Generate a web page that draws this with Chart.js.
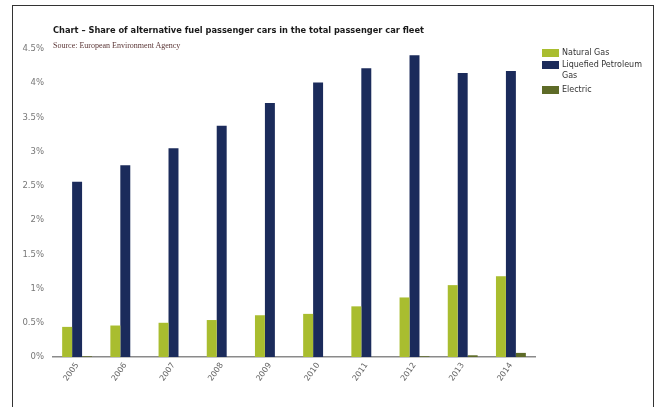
<!DOCTYPE html>
<html>
<head>
<meta charset="utf-8">
<script src="https://cdn.jsdelivr.net/npm/chart.js@4/dist/chart.umd.min.js"></script>
<style>
  html, body { margin: 0; padding: 0; background: #fff; }
  #wrap { position: relative; width: 656px; height: 407px; overflow: hidden; }
  #frame { position: absolute; left: 12px; top: 5px; width: 640px; height: 420px;
    border: 1.5px solid #333; border-bottom: none; }
  #title { position: absolute; left: 53px; top: 24px; font: bold 9.2px "DejaVu Sans Condensed", "DejaVu Sans", sans-serif;
    color: #1a1a1a; white-space: nowrap; }
  #source { position: absolute; left: 53px; top: 41px; font: 8px "Liberation Serif", serif; color: #5a3535; white-space: nowrap; }
  #legend { position: absolute; left: 542px; top: 47px; font: 8px "DejaVu Sans", sans-serif; color: #333; }
  .item { position: relative; height: 12px; padding-left: 20px; line-height: 11px; }
  .item.two { height: 25px; }
  .box { position: absolute; left: 0; top: 2px; width: 17px; height: 8px; }
  canvas { position: absolute; left: 0; top: 0; }
</style>
</head>
<body>
<div id="wrap">
  <div id="frame"></div>
  <canvas id="c" width="656" height="407"></canvas>
  <div id="title">Chart – Share of alternative fuel passenger cars in the total passenger car fleet</div>
  <div id="source">Source: European Environment Agency</div>
  <div id="legend"></div>
</div>
<script>
var years = ["2005", "2006", "2007", "2008", "2009", "2010", "2011", "2012", "2013", "2014"];
var naturalGas = [0.44, 0.46, 0.50, 0.54, 0.61, 0.63, 0.74, 0.87, 1.05, 1.18];
var lpg = [2.56, 2.80, 3.05, 3.38, 3.71, 4.01, 4.22, 4.41, 4.15, 4.18];
var electric = [0.01, 0.0, 0.0, 0.0, 0.0, 0.0, 0.0, 0.01, 0.025, 0.06];
var seriesNames = ["Natural Gas", "Liquefied Petroleum Gas", "Electric"];
var colors = ["#a9bd2f", "#1b2b5b", "#5e6b27"];

var legend = document.getElementById("legend");
var legendText = ["Natural Gas", "Liquefied Petroleum<br>Gas", "Electric"];
for (var i = 0; i < seriesNames.length; i++) {
  var it = document.createElement("div");
  it.className = "item" + (i == 1 ? " two" : "");
  it.innerHTML = '<span class="box" style="background:' + colors[i] + '"></span>' + legendText[i];
  legend.appendChild(it);
}

var ctx = document.getElementById("c").getContext("2d");
var chart = new Chart(ctx, {
  type: "bar",
  data: {
    labels: years,
    datasets: [
      { label: seriesNames[0], data: naturalGas, backgroundColor: colors[0] },
      { label: seriesNames[1], data: lpg, backgroundColor: colors[1] },
      { label: seriesNames[2], data: electric, backgroundColor: colors[2] }
    ]
  },
  options: {
    responsive: false,
    animation: false,
    layout: { padding: { left: 8, right: 121, top: 49, bottom: 10 } },
    plugins: { legend: { display: false }, tooltip: { enabled: false } },
    datasets: { bar: { categoryPercentage: 0.62, barPercentage: 1.0 } },
    scales: {
      x: {
        grid: { display: false, drawTicks: false },
        border: { display: true, color: "#8a8a8a", width: 1.5 },
        ticks: {
          color: "#666", font: { family: "DejaVu Sans", size: 8 },
          minRotation: 55, maxRotation: 55, padding: 4
        },
        afterFit: function (s) { s.height = 40; }
      },
      y: {
        min: 0, max: 4.5,
        grid: { display: false, drawTicks: false },
        border: { display: false },
        ticks: {
          stepSize: 0.5, color: "#777", padding: 9,
          font: { family: "DejaVu Sans", size: 8.5 },
          callback: function (v) { return v + "%"; }
        },
        afterFit: function (s) { s.width = 45; }
      }
    }
  }
});
</script>
</body>
</html>
